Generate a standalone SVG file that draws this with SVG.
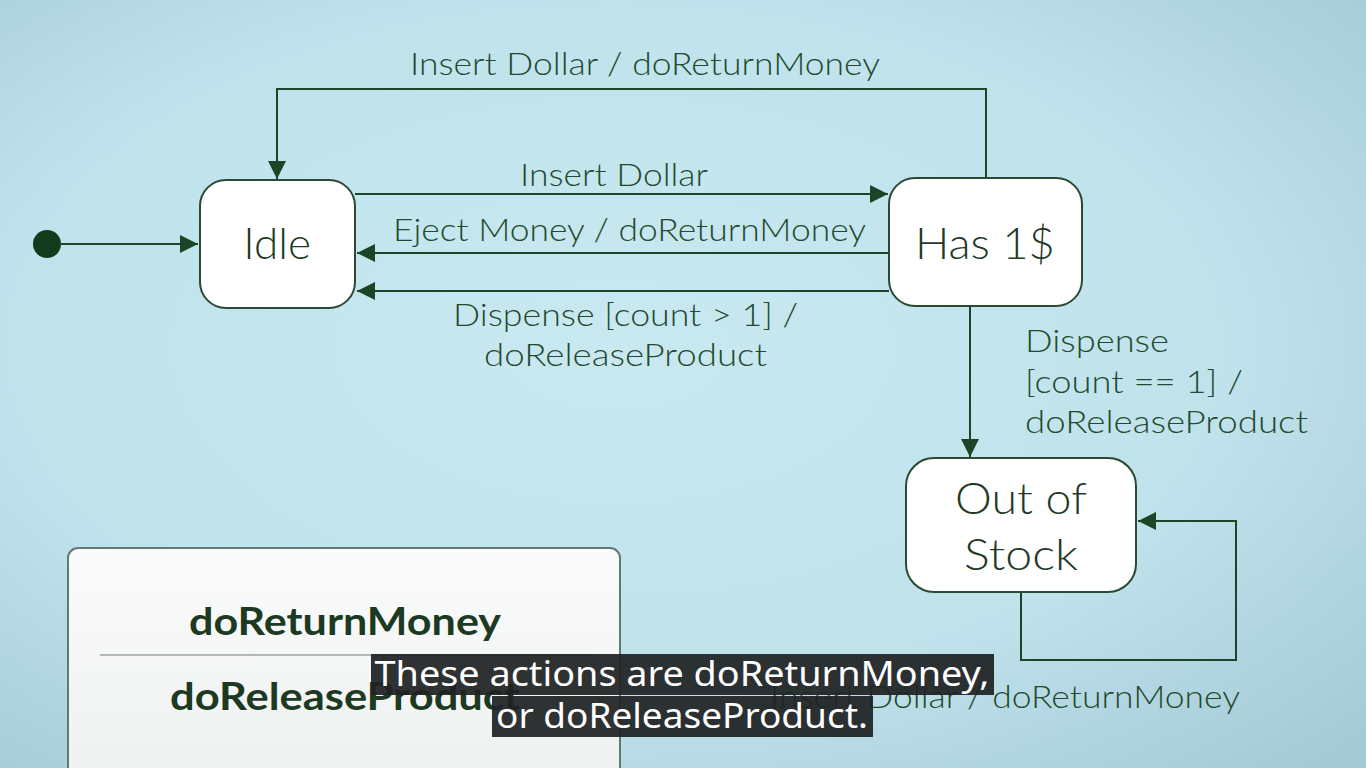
<svg xmlns="http://www.w3.org/2000/svg" width="1366" height="768" viewBox="0 0 1366 768">
<defs>
<radialGradient id="bg" cx="0.45" cy="0.45" r="0.75">
<stop offset="0" stop-color="#c9e9f1"/>
<stop offset="0.6" stop-color="#bfe2ec"/>
<stop offset="1" stop-color="#a5cad6"/>
</radialGradient>
<linearGradient id="leg" x1="0" y1="0" x2="0" y2="1">
<stop offset="0" stop-color="#fbfbfb"/>
<stop offset="1" stop-color="#eef0f0"/>
</linearGradient>
<marker id="arr" viewBox="0 0 10 10" refX="10" refY="5" markerWidth="18" markerHeight="18" markerUnits="userSpaceOnUse" orient="auto">
<path d="M0,0 L10,5 L0,10 z" fill="#1c4426"/>
</marker>
<style>
.node{fill:#ffffff;stroke:#2a4a33;stroke-width:2}
.nl{font-family:Lato,"Open Sans",sans-serif;font-size:44px;font-weight:300;fill:#1f3a26;text-anchor:middle}
.el{font-family:Lato,"Open Sans",sans-serif;font-size:31px;font-weight:300;fill:#234a2c}
.ln{fill:none;stroke:#1c4426;stroke-width:2}
.lg{font-family:Lato,"Open Sans",sans-serif;font-size:38px;font-weight:bold;fill:#1c3a22;text-anchor:middle}
.sub{font-family:"Noto Sans","Open Sans",sans-serif;font-size:35px;fill:#ffffff;text-anchor:middle}
</style>
</defs>
<rect width="1366" height="768" fill="url(#bg)"/>

<g id="connectors">
<line class="ln" x1="61" y1="244" x2="198" y2="244" marker-end="url(#arr)"/>
<polyline class="ln" points="986,178 986,89 277,89 277,179" marker-end="url(#arr)"/>
<line class="ln" x1="355" y1="194" x2="888" y2="194" marker-end="url(#arr)"/>
<line class="ln" x1="889" y1="253" x2="357" y2="253" marker-end="url(#arr)"/>
<line class="ln" x1="889" y1="291" x2="357" y2="291" marker-end="url(#arr)"/>
<line class="ln" x1="970" y1="306" x2="970" y2="457" marker-end="url(#arr)"/>
<polyline class="ln" points="1021,592 1021,660 1236,660 1236,521 1138,521" marker-end="url(#arr)"/>
<text class="el" x="645" y="75" text-anchor="middle" textLength="470" lengthAdjust="spacingAndGlyphs">Insert Dollar / doReturnMoney</text>
<text class="el" x="614" y="186" text-anchor="middle" textLength="188" lengthAdjust="spacingAndGlyphs">Insert Dollar</text>
<text class="el" x="393" y="241" textLength="473" lengthAdjust="spacingAndGlyphs">Eject Money / doReturnMoney</text>
<text class="el" x="453" y="326" textLength="345" lengthAdjust="spacingAndGlyphs">Dispense [count &gt; 1] /</text>
<text class="el" x="484" y="366" textLength="283" lengthAdjust="spacingAndGlyphs">doReleaseProduct</text>
<text class="el" x="1025" y="352" textLength="144" lengthAdjust="spacingAndGlyphs">Dispense</text>
<text class="el" x="1025" y="393" textLength="218" lengthAdjust="spacingAndGlyphs">[count == 1] /</text>
<text class="el" x="1025" y="433" textLength="283" lengthAdjust="spacingAndGlyphs">doReleaseProduct</text>
<text class="el" x="770" y="708" textLength="470" lengthAdjust="spacingAndGlyphs">Insert Dollar / doReturnMoney</text>
</g>

<g id="initial">
<circle cx="47" cy="244" r="14" fill="#143a1e"/>
</g>

<g id="idle">
<rect class="node" x="200" y="180" width="155" height="128" rx="26"/>
<text class="nl" x="277" y="259">Idle</text>
</g>

<g id="has1">
<rect class="node" x="889" y="178" width="193" height="128" rx="26"/>
<text class="nl" x="985" y="259" textLength="140" lengthAdjust="spacingAndGlyphs">Has 1$</text>
</g>

<g id="outofstock">
<rect class="node" x="906" y="458" width="230" height="134" rx="28"/>
<text class="nl" x="1021" y="514" textLength="132" lengthAdjust="spacingAndGlyphs">Out of</text>
<text class="nl" x="1021" y="570" textLength="114" lengthAdjust="spacingAndGlyphs">Stock</text>
</g>

<g id="legend">
<rect x="68" y="548" width="552" height="240" rx="10" fill="url(#leg)" stroke="#5f7a72" stroke-width="2"/>
<line x1="100" y1="655" x2="590" y2="655" stroke="#9aa5a3" stroke-width="1.5"/>
<text class="lg" x="345" y="635" textLength="312" lengthAdjust="spacingAndGlyphs">doReturnMoney</text>
<text class="lg" x="345" y="710" textLength="350" lengthAdjust="spacingAndGlyphs">doReleaseProduct</text>
</g>

<g id="subtitle">
<rect x="371" y="654" width="623" height="41" fill="#1f2224" fill-opacity="0.93"/>
<rect x="492" y="696" width="381" height="41" fill="#1f2224" fill-opacity="0.93"/>
<text class="sub" x="682" y="686" textLength="615" lengthAdjust="spacingAndGlyphs">These actions are doReturnMoney,</text>
<text class="sub" x="682" y="728" textLength="372" lengthAdjust="spacingAndGlyphs">or doReleaseProduct.</text>
</g>
</svg>
